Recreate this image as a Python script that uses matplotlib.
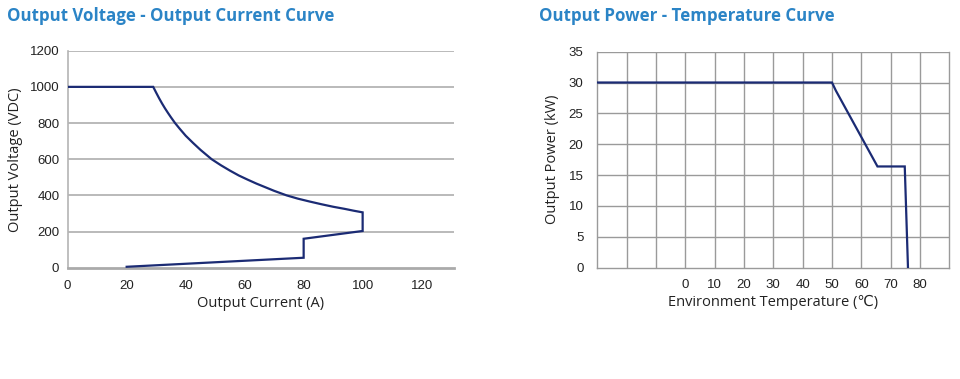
import matplotlib
matplotlib.use("Agg")
import matplotlib.pyplot as plt

# ---- data: Output Voltage - Output Current ----
current_a = [0, 29, 30, 31, 32, 33, 34, 35, 36.4, 38, 40, 42.5, 45, 48.8, 52, 55, 58, 61, 64, 67,
             70, 74.2, 78, 82, 86, 90, 94, 97, 100,
             100, 80, 80, 20]
voltage_v = [1000, 1000, 968, 937, 908, 881, 856, 832, 800, 768, 730, 690, 652, 600, 566, 537, 510, 487, 465, 445,
             425, 400, 382, 366, 351, 337, 325, 315, 306,
             203, 160, 55, 5]
vi_xticks = [0, 20, 40, 60, 80, 100, 120]
vi_yticks = [0, 200, 400, 600, 800, 1000, 1200]

# ---- data: Output Power - Temperature ----
temp_c = [-30, 50, 51.3, 65.5, 74.8, 75.9]
power_kw = [30, 30, 28.7, 16.4, 16.4, 0]
pt_xgrid = [-20, -10, 0, 10, 20, 30, 40, 50, 60, 70, 80]
pt_xticks = [0, 10, 20, 30, 40, 50, 60, 70, 80]
pt_yticks = [0, 5, 10, 15, 20, 25, 30, 35]

LINE = '#1b2b74'
TITLE = '#2b84c6'
TICKFONT = 'Liberation Sans'
LABELFONT = ['Open Sans', 'DejaVu Sans']

fig = plt.figure(figsize=(9.6, 3.79), dpi=100)

# ---------- left chart ----------
ax1 = fig.add_axes([0.0705, 0.2937, 0.4025, 0.5725])
ax1.set_xlim(0, 131)
ax1.set_ylim(0, 1200)
for v in vi_yticks[1:]:
    ax1.axhline(v, color='#b4b4b4', lw=1.3, zorder=1)
ax1.plot(current_a, voltage_v, color=LINE, lw=1.6, zorder=3, solid_joinstyle='miter')
for s in ['top', 'right']:
    ax1.spines[s].set_visible(False)
ax1.spines['left'].set_color('#b4b4b4')
ax1.spines['left'].set_linewidth(1.2)
ax1.spines['bottom'].set_color('#aaaaaa')
ax1.spines['bottom'].set_linewidth(2.0)
ax1.set_xticks(vi_xticks)
ax1.set_yticks(vi_yticks)
ax1.tick_params(length=0, labelsize=9.5, colors='#222222')
ax1.tick_params(axis='x', pad=9)
ax1.tick_params(axis='y', pad=6)
for lab in ax1.get_xticklabels() + ax1.get_yticklabels():
    lab.set_fontfamily(TICKFONT)
ax1.set_xlabel('Output Current (A)', fontsize=10.5, family=LABELFONT, color='#222222', labelpad=3)
ax1.set_ylabel('Output Voltage (VDC)', fontsize=10.5, family=LABELFONT, color='#222222', labelpad=5)

fig.text(0.007, 0.957, 'Output Voltage - Output Current Curve', fontsize=12.2, fontweight='bold',
         family=LABELFONT, color=TITLE, va='center', ha='left')

# ---------- right chart ----------
ax2 = fig.add_axes([0.6222, 0.2937, 0.3667, 0.570])
ax2.set_xlim(-30, 90)
ax2.set_ylim(0, 35)
GRID = '#9a9a9a'
for v in pt_yticks[1:]:
    ax2.axhline(v, color=GRID, lw=1.0, zorder=1)
for t in pt_xgrid:
    ax2.axvline(t, color=GRID, lw=1.0, zorder=1)
ax2.plot(temp_c, power_kw, color=LINE, lw=1.6, zorder=3, solid_joinstyle='miter')
for s in ['top', 'right', 'left', 'bottom']:
    ax2.spines[s].set_color(GRID)
    ax2.spines[s].set_linewidth(1.0)
ax2.spines['top'].set_visible(False)
ax2.set_xticks(pt_xticks)
ax2.set_yticks(pt_yticks)
ax2.tick_params(length=0, labelsize=9.5, colors='#222222')
ax2.tick_params(axis='x', pad=8)
ax2.tick_params(axis='y', pad=10)
for lab in ax2.get_xticklabels() + ax2.get_yticklabels():
    lab.set_fontfamily(TICKFONT)
ax2.set_xlabel('Environment Temperature (℃)', fontsize=10.5, family=LABELFONT, color='#222222', labelpad=3)
ax2.set_ylabel('Output Power (kW)', fontsize=10.5, family=LABELFONT, color='#222222', labelpad=6)

fig.text(0.5618, 0.957, 'Output Power - Temperature Curve', fontsize=12.2, fontweight='bold',
         family=LABELFONT, color=TITLE, va='center', ha='left')

fig.savefig('out.png', dpi=100, facecolor='white')
